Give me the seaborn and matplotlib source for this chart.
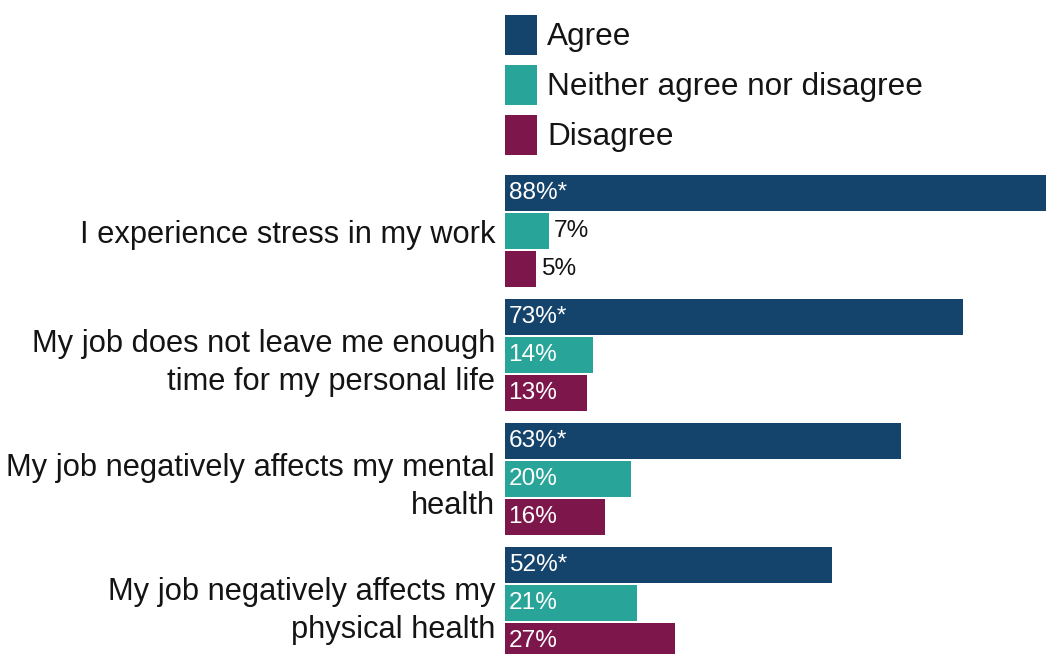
import matplotlib
matplotlib.use("Agg")
import matplotlib.pyplot as plt
import seaborn as sns
import pandas as pd

# Survey statements and share of respondents per response
statements = [
    "I experience stress in my work",
    "My job does not leave me enough\ntime for my personal life",
    "My job negatively affects my mental\nhealth",
    "My job negatively affects my\nphysical health",
]
responses = ["Agree", "Neither agree nor disagree", "Disagree"]
agree = [88, 73, 63, 52]
neither = [7, 14, 20, 21]
disagree = [5, 13, 16, 27]
# significance marker appended to each value label
agree_marks = ["*", "*", "*", "*"]
neither_marks = ["", "", "", ""]
disagree_marks = ["", "", "", ""]

colors = ["#14436C", "#28A598", "#7D164B"]
text_dark = "#141414"

sns.set_theme(style="white")
plt.rcParams["font.family"] = ["Liberation Sans", "DejaVu Sans"]

rows = []
for resp, vals in zip(responses, [agree, neither, disagree]):
    for st, v in zip(statements, vals):
        rows.append({"statement": st, "response": resp, "pct": v})
df = pd.DataFrame(rows)

W, H = 1046, 654
fig = plt.figure(figsize=(W / 100, H / 100), dpi=100)
ax = fig.add_axes([505 / W, 0, 541 / W, 1])

sns.barplot(
    data=df, y="statement", x="pct", hue="response",
    order=statements, hue_order=responses, palette=colors,
    orient="h", width=0.919, gap=0.053, saturation=1,
    errorbar=None, linewidth=0, ax=ax,
)

ax.set_xlim(0, 86.15)
ax.set_ylim(3.411, -1.863)
ax.set_xlabel("")
ax.set_ylabel("")
ax.set_xticks([])
for s in ax.spines.values():
    s.set_visible(False)
ax.tick_params(axis="y", length=0, pad=7.2, labelsize=22.2, labelcolor=text_dark)
for t in ax.get_yticklabels():
    t.set_linespacing(1.38)

# value labels: inside the bar in white, outside in dark for short bars
marks = [agree_marks, neither_marks, disagree_marks]
for cont, mk in zip(ax.containers, marks):
    for bar, m in zip(cont, mk):
        v = bar.get_width()
        yc = bar.get_y() + bar.get_height() / 2
        label = f"{v:.0f}%{m}"
        if v >= 10:
            ax.annotate(label, (0, yc), xytext=(2.6, 0), textcoords="offset points",
                        va="center", ha="left", color="white", fontsize=17.6)
        else:
            ax.annotate(label, (v, yc), xytext=(3.2, 0), textcoords="offset points",
                        va="center", ha="left", color=text_dark, fontsize=17.6)

handles, labels = ax.get_legend_handles_labels()
ax.legend(
    handles, labels, loc="upper left",
    bbox_to_anchor=(505 / W, 1 - 15 / H), bbox_transform=fig.transFigure,
    frameon=False, fontsize=22.7, handlelength=1.015, handleheight=1.575,
    labelspacing=0.317, handletextpad=0.33, borderpad=0, borderaxespad=0,
    labelcolor=text_dark,
)

fig.savefig("out.png", dpi=100)
